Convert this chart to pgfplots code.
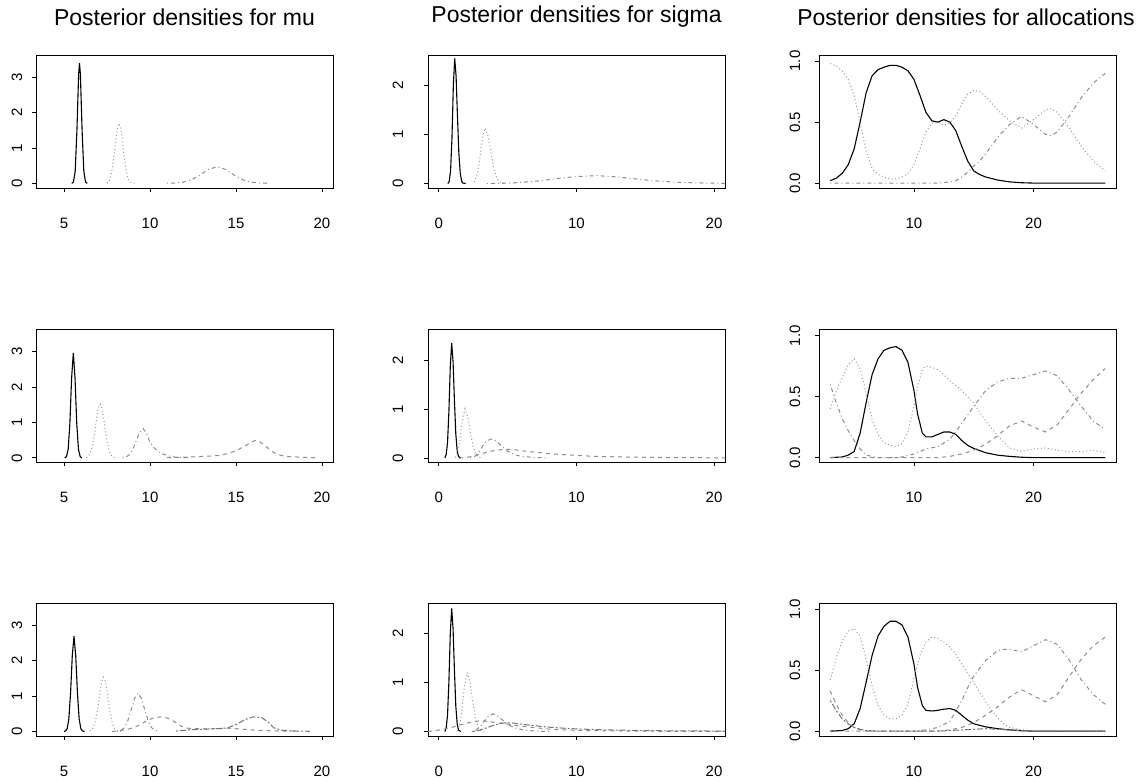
\documentclass[border=0pt]{standalone}
\usepackage{fontspec}
\setmainfont{Liberation Sans}
\usepackage{pgfplots}
\pgfplotsset{compat=1.18}
\pgfplotsset{
 rpanel/.style={
  scale only axis, width=297bp, height=133bp, anchor=south west,
  axis line style={line width=0.9bp, black},
  tick align=outside, major tick length=4bp,
  every tick/.style={black, line width=0.8bp},
  xtick pos=left, ytick pos=left, minor tick num=0,
  ticklabel style={font=\fontsize{15bp}{15bp}\selectfont},
  /pgf/number format/assume math mode=true,
  xticklabel style={anchor=center, yshift=-31bp},
 },
 mupanel/.style={rpanel, xmin=3.37, xmax=20.64, ymin=-0.13, ymax=3.63, xtick={5,10,15,20}, ytick={0,1,2,3}, yticklabel style={xshift=-15bp, rotate=90, anchor=center}},
 sgpanel/.style={rpanel, xmin=-0.78, xmax=20.8, ymin=-0.09, ymax=2.62, xtick={0,10,20}, ytick={0,1,2}, yticklabel style={xshift=-26bp, rotate=90, anchor=center}},
 alpanel/.style={rpanel, xmin=2.06, xmax=26.9, ymin=-0.04, ymax=1.05, xtick={10,20}, ytick={0,0.5,1}, yticklabels={0.0,0.5,1.0}, yticklabel style={xshift=-20bp, rotate=90, anchor=center}},
 st1/.style={black, line width=1.1bp, solid},
 st2/.style={black!40, line width=1bp, dash pattern=on 1bp off 2.5bp},
 st3/.style={black!45, line width=1bp, dash pattern=on 1bp off 3bp on 4bp off 3bp},
 st4/.style={black!45, line width=1bp, dash pattern=on 4bp off 4bp},
 st5/.style={black!55, line width=1bp, dash pattern=on 2bp off 2bp on 6bp off 2bp},
}
\begin{document}
\begin{tikzpicture}[x=1bp,y=1bp]
\useasboundingbox (0,0) rectangle (1137,782);
\node[font=\fontsize{23bp}{25bp}\selectfont] at (184.5,765) {Posterior densities for mu};
\node[font=\fontsize{23bp}{25bp}\selectfont] at (576.5,765) {Posterior densities for sigma};
\node[font=\fontsize{23bp}{25bp}\selectfont] at (966,765) {Posterior densities for allocations};

% ---------------- Row 1 ----------------
\begin{axis}[mupanel, at={(36bp,594bp)}]
\addplot[st1] coordinates {(5.45,0) (5.55,0.04) (5.65,0.35) (5.75,1.5) (5.85,3.1) (5.9,3.4) (5.95,3.1) (6.05,1.5) (6.15,0.35) (6.25,0.04) (6.35,0)};
\addplot[st2] coordinates {(7.5,0.01) (7.6,0.03) (7.7,0.18) (7.8,0.4) (7.9,0.75) (8.0,1.18) (8.1,1.55) (8.2,1.7) (8.3,1.55) (8.4,1.18) (8.5,0.75) (8.6,0.4) (8.7,0.18) (8.8,0.065) (8.9,0.02) (9.1,0)};
\addplot[st3] coordinates {(11,0.005) (11.4,0.01) (11.9,0.03) (12.4,0.1) (12.9,0.235) (13.4,0.395) (13.9,0.47) (14.4,0.395) (14.9,0.235) (15.4,0.1) (15.9,0.03) (16.4,0.01) (16.9,0.002)};
\end{axis}

\begin{axis}[sgpanel, at={(428bp,594bp)}]
\addplot[st1] coordinates {(0.66,0) (0.76,0.04) (0.86,0.26) (0.96,0.92) (1.06,1.98) (1.16,2.55) (1.26,2.19) (1.36,1.38) (1.46,0.63) (1.56,0.22) (1.66,0.05) (1.76,0.01) (1.96,0)};
\addplot[st2] coordinates {(2.56,0.03) (2.76,0.15) (2.96,0.46) (3.16,0.9) (3.36,1.13) (3.56,1.0) (3.76,0.69) (3.96,0.37) (4.16,0.15) (4.36,0.05) (4.56,0.01) (4.8,0)};
\addplot[st3] coordinates {(3.5,0) (4.5,0.005) (5.5,0.015) (6.5,0.035) (7.5,0.06) (8.5,0.1) (9.5,0.13) (10.5,0.15) (11.5,0.16) (12.5,0.145) (13.5,0.12) (14.5,0.09) (15.5,0.06) (16.5,0.04) (17.5,0.025) (18.5,0.015) (19.5,0.01) (20.8,0.005)};
\end{axis}

\begin{axis}[alpanel, at={(819bp,594bp)}]
\addplot[st1] coordinates {(3,0.02) (3.5,0.04) (4,0.08) (4.5,0.15) (5,0.28) (5.5,0.5) (6,0.74) (6.5,0.88) (7,0.93) (7.5,0.95) (8,0.965) (8.5,0.965) (9,0.95) (9.5,0.92) (10,0.85) (10.5,0.72) (11,0.58) (11.5,0.51) (12,0.5) (12.5,0.52) (13,0.5) (13.5,0.43) (14,0.3) (14.5,0.18) (15,0.1) (15.5,0.07) (16,0.05) (17,0.025) (18,0.01) (19,0.003) (20,0) (26,0)};
\addplot[st2] coordinates {(3,0.98) (3.5,0.96) (4,0.92) (4.5,0.85) (5,0.72) (5.5,0.5) (6,0.26) (6.5,0.12) (7,0.07) (7.5,0.05) (8,0.035) (8.5,0.035) (9,0.05) (9.5,0.08) (10,0.15) (10.5,0.28) (11,0.42) (11.5,0.49) (12,0.5) (12.5,0.475) (13,0.49) (13.5,0.55) (14,0.65) (14.5,0.73) (15,0.76) (15.5,0.75) (16,0.71) (17,0.6) (18,0.51) (19,0.45) (20,0.52) (21,0.6) (21.5,0.61) (22,0.58) (23,0.45) (24,0.3) (25,0.18) (26,0.1)};
\addplot[st3] coordinates {(3,0) (12,0) (12.5,0.005) (13,0.01) (13.5,0.02) (14,0.05) (14.5,0.09) (15,0.14) (15.5,0.18) (16,0.24) (17,0.375) (18,0.48) (19,0.547) (20,0.48) (21,0.4) (21.5,0.39) (22,0.42) (23,0.55) (24,0.7) (25,0.82) (26,0.9)};
\end{axis}

% ---------------- Row 2 ----------------
\begin{axis}[mupanel, at={(36bp,319.5bp)}]
\addplot[st1] coordinates {(5.04,0) (5.14,0.035) (5.24,0.24) (5.34,0.97) (5.44,2.25) (5.54,2.97) (5.64,2.25) (5.74,0.97) (5.84,0.24) (5.94,0.035) (6.04,0)};
\addplot[st2] coordinates {(6.3,0.014) (6.4,0.04) (6.5,0.106) (6.6,0.24) (6.7,0.47) (6.8,0.78) (6.9,1.13) (7.0,1.41) (7.1,1.52) (7.2,1.41) (7.3,1.13) (7.4,0.78) (7.5,0.47) (7.6,0.24) (7.7,0.106) (7.8,0.04) (7.9,0.014) (8.1,0)};
\addplot[st3] coordinates {(8.4,0.007) (8.6,0.026) (8.8,0.09) (9.0,0.24) (9.2,0.48) (9.4,0.72) (9.6,0.83) (9.8,0.68) (10.0,0.45) (10.2,0.3) (10.5,0.17) (10.8,0.1) (11.2,0.04) (11.6,0.015) (12.2,0.005)};
\addplot[st4] coordinates {(11,0.005) (11.5,0.01) (12,0.02) (12.5,0.03) (13,0.04) (13.5,0.05) (14,0.07) (14.5,0.12) (15,0.2) (15.5,0.33) (16,0.47) (16.2,0.5) (16.5,0.42) (16.8,0.3) (17.1,0.18) (17.4,0.1) (17.8,0.05) (18.3,0.03) (19,0.015) (19.7,0.005)};
\end{axis}

\begin{axis}[sgpanel, at={(428bp,319.5bp)}]
\addplot[st1] coordinates {(0.44,0) (0.54,0.07) (0.64,0.32) (0.74,0.96) (0.84,1.87) (0.94,2.34) (1.04,1.97) (1.14,1.17) (1.24,0.49) (1.34,0.15) (1.44,0.03) (1.6,0)};
\addplot[st2] coordinates {(1.2,0.01) (1.3,0.06) (1.5,0.28) (1.7,0.73) (1.9,1.0) (2.1,0.85) (2.3,0.52) (2.5,0.23) (2.7,0.07) (2.9,0.02) (3.1,0)};
\addplot[st3] coordinates {(2.3,0) (2.6,0.03) (2.9,0.12) (3.2,0.25) (3.5,0.35) (3.84,0.39) (4.2,0.34) (4.6,0.24) (5.0,0.14) (5.5,0.07) (6,0.035) (7,0.01) (8,0.003)};
\addplot[st4] coordinates {(1.5,0) (2,0.01) (2.5,0.04) (3,0.08) (3.5,0.12) (4,0.15) (4.5,0.17) (5,0.18) (5.5,0.17) (6,0.15) (7,0.12) (8,0.09) (9,0.07) (10,0.055) (11,0.04) (12,0.03) (14,0.02) (16,0.012) (18,0.008) (20.8,0.005)};
\end{axis}

\begin{axis}[alpanel, at={(819bp,319.5bp)}]
\addplot[st1] coordinates {(3,0) (4,0.005) (4.5,0.02) (5,0.05) (5.5,0.2) (6,0.45) (6.5,0.68) (7,0.81) (7.5,0.88) (8,0.9) (8.5,0.91) (9,0.88) (9.5,0.78) (10,0.55) (10.3,0.36) (10.7,0.2) (11,0.17) (11.5,0.17) (12,0.19) (12.5,0.21) (13,0.21) (13.5,0.19) (14,0.14) (14.5,0.1) (15,0.075) (16,0.04) (17,0.02) (18,0.01) (19,0.003) (20,0) (26,0)};
\addplot[st2] coordinates {(3,0.4) (3.5,0.54) (4,0.66) (4.5,0.76) (5,0.81) (5.5,0.73) (6,0.53) (6.5,0.31) (7,0.19) (7.5,0.12) (8,0.1) (8.5,0.09) (9,0.115) (9.5,0.21) (10,0.42) (10.3,0.58) (10.7,0.72) (11,0.75) (11.5,0.74) (12,0.72) (12.5,0.68) (13,0.63) (14,0.55) (15,0.445) (16,0.3) (17,0.18) (18,0.08) (19,0.05) (20,0.07) (21,0.08) (22,0.06) (23,0.05) (24,0.05) (25,0.06) (26,0.04)};
\addplot[st3] coordinates {(3,0.6) (3.5,0.45) (4,0.32) (4.5,0.22) (5,0.14) (5.5,0.07) (6,0.02) (6.5,0.01) (7,0) (8,0) (9,0.005) (10,0.03) (11,0.07) (12,0.09) (13,0.15) (14,0.28) (15,0.42) (16,0.55) (17,0.62) (18,0.65) (19,0.65) (20,0.68) (21,0.71) (22,0.67) (23,0.55) (24,0.42) (25,0.3) (26,0.23)};
\addplot[st4] coordinates {(3,0) (12,0) (13,0.01) (14,0.03) (15,0.06) (16,0.11) (17,0.18) (18,0.26) (19,0.3) (20,0.25) (21,0.21) (22,0.27) (23,0.4) (24,0.53) (25,0.64) (26,0.73)};
\end{axis}

% ---------------- Row 3 ----------------
\begin{axis}[mupanel, at={(36bp,46bp)}]
\addplot[st1] coordinates {(5.0,0) (5.08,0.01) (5.18,0.07) (5.28,0.35) (5.38,1.08) (5.48,2.14) (5.58,2.69) (5.68,2.14) (5.78,1.08) (5.88,0.35) (5.98,0.07) (6.08,0.01) (6.2,0)};
\addplot[st2] coordinates {(6.5,0.014) (6.6,0.04) (6.7,0.106) (6.8,0.24) (6.9,0.47) (7.0,0.78) (7.1,1.14) (7.2,1.42) (7.29,1.53) (7.4,1.42) (7.5,1.14) (7.6,0.78) (7.7,0.47) (7.8,0.24) (7.9,0.106) (8.0,0.04) (8.1,0.014) (8.3,0)};
\addplot[st3] coordinates {(8.1,0.005) (8.3,0.03) (8.5,0.1) (8.7,0.29) (8.9,0.6) (9.1,0.93) (9.3,1.08) (9.5,0.93) (9.7,0.6) (9.9,0.29) (10.1,0.1) (10.3,0.03) (10.5,0.005)};
\addplot[st4] coordinates {(7.8,0) (8.2,0.02) (8.6,0.05) (9,0.1) (9.4,0.18) (9.8,0.3) (10.2,0.38) (10.6,0.41) (11,0.38) (11.4,0.28) (11.8,0.15) (12.2,0.09) (12.6,0.08) (13.2,0.07) (14,0.08) (14.6,0.09) (15.2,0.07) (16,0.04) (16.8,0.02) (17.5,0.01) (18.5,0.005)};
\addplot[st5] coordinates {(11.5,0.01) (12,0.03) (12.5,0.05) (13,0.06) (13.5,0.07) (14,0.08) (14.5,0.1) (15,0.19) (15.5,0.33) (16,0.41) (16.5,0.39) (16.9,0.25) (17.2,0.1) (17.6,0.04) (18,0.02) (18.5,0.01) (19.3,0.003)};
\end{axis}

\begin{axis}[sgpanel, at={(428bp,46bp)}]
\addplot[st1] coordinates {(0.44,0) (0.54,0.07) (0.64,0.34) (0.74,1.03) (0.84,2.0) (0.94,2.51) (1.04,2.1) (1.14,1.25) (1.24,0.52) (1.34,0.16) (1.44,0.03) (1.6,0)};
\addplot[st2] coordinates {(1.35,0.01) (1.45,0.06) (1.65,0.33) (1.85,0.88) (2.07,1.2) (2.27,1.02) (2.47,0.62) (2.67,0.28) (2.87,0.08) (3.07,0.02) (3.3,0)};
\addplot[st3] coordinates {(2.4,0) (2.7,0.03) (3.0,0.1) (3.3,0.21) (3.6,0.31) (3.96,0.36) (4.3,0.31) (4.7,0.22) (5.1,0.13) (5.6,0.07) (6.1,0.035) (7,0.01) (8,0.003)};
\addplot[st4] coordinates {(-0.78,0) (0,0.03) (0.5,0.06) (1,0.09) (1.5,0.13) (2,0.17) (2.5,0.2) (3,0.22) (3.5,0.21) (4,0.19) (5,0.15) (6,0.11) (7,0.08) (8,0.05) (9,0.035) (10,0.025) (12,0.015) (14,0.01) (17,0.005) (20.8,0.002)};
\addplot[st5] coordinates {(2.5,0) (3,0.03) (3.5,0.08) (4,0.13) (4.5,0.17) (5,0.18) (5.5,0.17) (6,0.15) (7,0.12) (8,0.09) (9,0.07) (10,0.055) (11,0.045) (12,0.035) (13,0.03) (15,0.02) (17,0.015) (20.8,0.01)};
\end{axis}

\begin{axis}[alpanel, at={(819bp,46bp)}]
\addplot[st1] coordinates {(3,0) (4,0.005) (4.5,0.02) (5,0.06) (5.5,0.185) (6,0.4) (6.5,0.62) (7,0.78) (7.5,0.86) (8,0.9) (8.5,0.9) (9,0.87) (9.5,0.77) (10,0.55) (10.3,0.36) (10.7,0.21) (11,0.17) (11.5,0.165) (12,0.17) (12.5,0.18) (13,0.185) (13.5,0.17) (14,0.13) (14.5,0.09) (15,0.06) (16,0.035) (17,0.02) (18,0.01) (19,0.003) (20,0) (26,0)};
\addplot[st2] coordinates {(3,0.42) (3.5,0.6) (4,0.74) (4.5,0.82) (5,0.84) (5.5,0.78) (6,0.59) (6.5,0.37) (7,0.21) (7.5,0.13) (8,0.1) (8.5,0.1) (9,0.13) (9.5,0.22) (10,0.43) (10.5,0.62) (11,0.73) (11.5,0.77) (12,0.76) (12.5,0.73) (13,0.69) (13.5,0.63) (14,0.55) (14.5,0.47) (15,0.4) (15.5,0.32) (16,0.24) (16.5,0.17) (17,0.11) (17.5,0.06) (18,0.03) (19,0.01) (20,0.005) (26,0)};
\addplot[st3] coordinates {(3,0) (10,0) (11,0.01) (12,0.03) (13,0.08) (14,0.25) (14.7,0.4) (15,0.45) (16,0.58) (17,0.66) (17.5,0.67) (18,0.67) (19,0.65) (20,0.7) (21,0.75) (22,0.71) (23,0.58) (24,0.42) (25,0.3) (26,0.22)};
\addplot[st4] coordinates {(3,0.33) (3.5,0.22) (4,0.13) (4.5,0.07) (5,0.03) (5.5,0.01) (6,0) (12,0) (13,0.01) (14,0.03) (15,0.07) (16,0.13) (17,0.2) (18,0.28) (19,0.34) (20,0.29) (21,0.24) (22,0.3) (23,0.45) (24,0.59) (25,0.7) (26,0.77)};
\addplot[st5] coordinates {(3,0.25) (3.5,0.17) (4,0.1) (4.5,0.06) (5,0.03) (5.5,0.015) (6,0.005) (7,0) (12,0) (14,0.01) (16,0.02) (18,0.01) (20,0) (26,0)};
\end{axis}
\end{tikzpicture}
\end{document}
